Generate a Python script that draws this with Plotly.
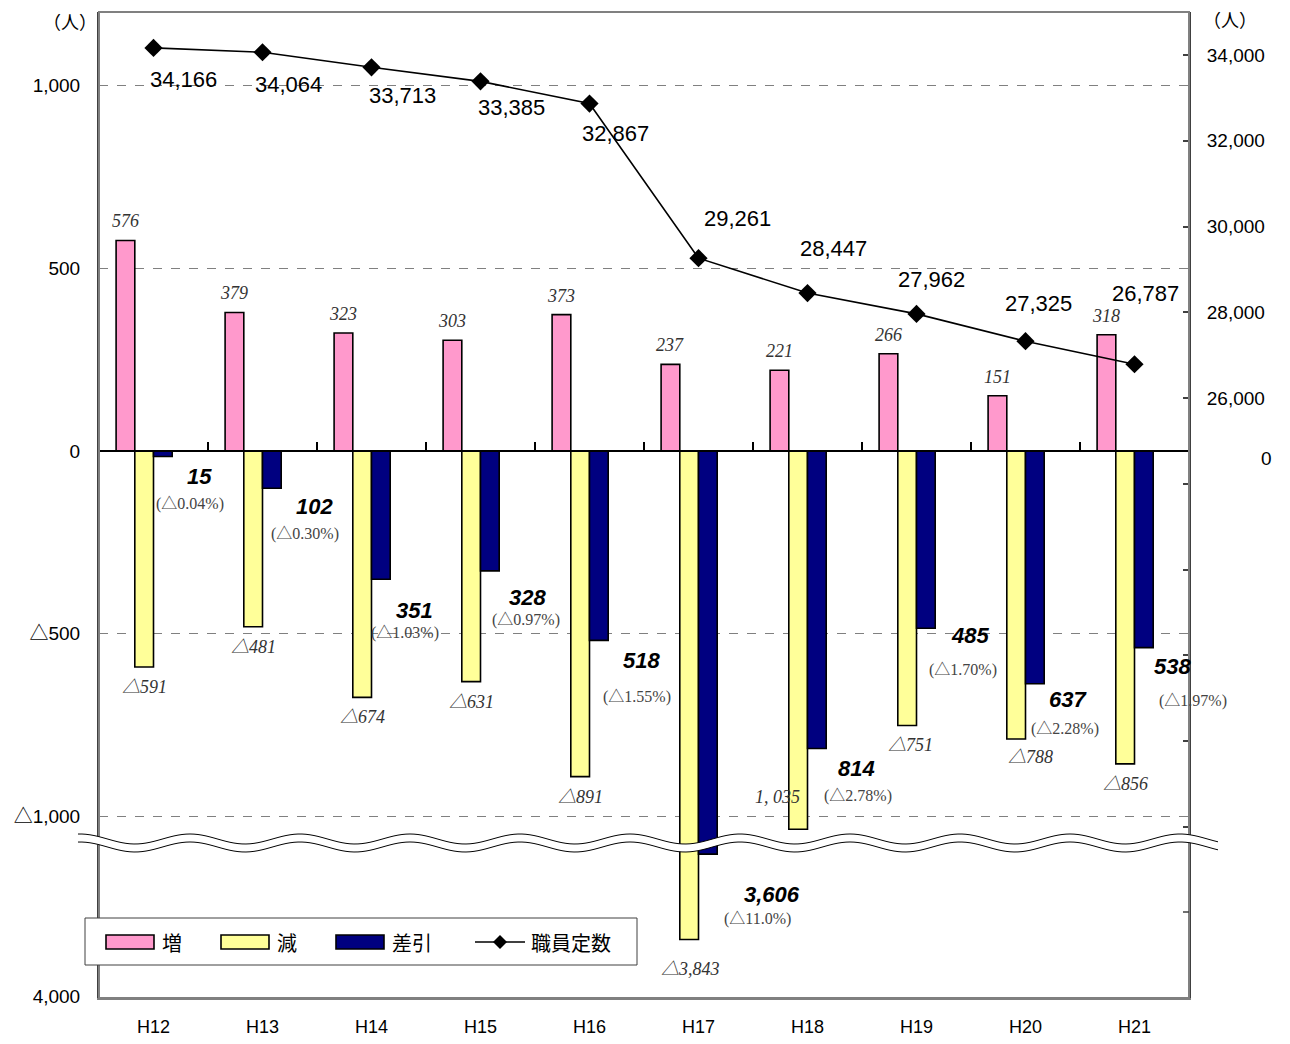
import math
import plotly.graph_objects as go

# ---- data ----
years = ['H12', 'H13', 'H14', 'H15', 'H16', 'H17', 'H18', 'H19', 'H20', 'H21']
increase = [576, 379, 323, 303, 373, 237, 221, 266, 151, 318]
decrease = [-591, -481, -674, -631, -891, -3843, -1035, -751, -788, -856]
net = [-15, -102, -351, -328, -518, -3606, -814, -485, -637, -538]
staff = [34166, 34064, 33713, 33385, 32867, 29261, 28447, 27962, 27325, 26787]
net_pct = [0.04, 0.30, 1.03, 0.97, 1.55, 11.0, 2.78, 1.70, 2.28, 1.97]

left_ticks = [-1000, -500, 0, 500, 1000]
left_ticktext = ['△1,000', '△500', '0', '500', '1,000']
right_ticks = [16000, 18000, 20000, 22000, 24000, 26000, 28000, 30000, 32000, 34000]
right_ticktext = ['', '', '', '', '', '26,000', '28,000', '30,000', '32,000', '34,000']

# full-width triangle, as in the original
TRI = '<span style="font-family:Noto Sans CJK JP">△</span>'


def tri(s):
    return s.replace('△', TRI)


# label texts
inc_text = [str(v) for v in increase]
dec_text = [tri('△{:,}'.format(-v)) for v in decrease]
dec_text[6] = '1, 035'
net_text = ['{:,}'.format(-v) for v in net]
pct_text = [tri('(△{:.2f}%)'.format(p) if p < 10 else '(△{:.1f}%)'.format(p)) for p in net_pct]
staff_text = ['{:,}'.format(v) for v in staff]

# label offsets in pixels (dx right, dy down) from the mark they belong to
dec_dx = [0, 0, 0, 0, 0, 1, -21, 3, 14, 0]
dec_dy = [18, 18, 18, 18, 18, 28, -32, 18, 16, 18]
net_dx = [37, 43, 34, 38, 43, 64, 40, 44, 33, 29]
net_dy = [20, 18, 31, 27, 20, 40, 20, 7, 16, 19]
pct_dx = [27, 33, 24, 36, 38, 50, 41, 37, 30, 49]
pct_dy = [46, 44, 52, 47, 55, 63, 45, 40, 43, 51]
staff_dx = [30, 26, 31, 31, 26, 39, 26, 15, 13, 11]
staff_dy = [32, 32, 28, 26, 30, -40, -45, -34, -38, -71]

# ---- geometry (page pixels) ----
W, H = 1290, 1044
PLOT_L, PLOT_R, PLOT_T, PLOT_B = 99, 1189, 12, 998
PW, PH = PLOT_R - PLOT_L, PLOT_B - PLOT_T
L, R, T, B = PLOT_L, W - PLOT_R, PLOT_T, H - PLOT_B


def px_x(px):
    return (px - PLOT_L) / PW


def px_y(py):
    return (PLOT_B - py) / PH


cat_px = PW / len(years)
bw = 18.7 / cat_px
upper_dom = [px_y(845), 1.0]
lower_dom = [0.0, px_y(841)]
s_up = 0.3655
upper_range = [-(845 - 451) / s_up, (451 - PLOT_T) / s_up]
s_lo = 0.36
lower_range = [-4000 - (PLOT_B - 996) / s_lo, -4000 + (996 - 841) / s_lo]
s_r = 0.042875
right_range = [34000 - (845 - 55) / s_r, 34000 + (55 - PLOT_T) / s_r]

PINK, YELLOW, NAVY = '#FF99CC', '#FFFF99', '#000080'
SANS = 'Liberation Sans, Arial, sans-serif'
SERIF = 'Liberation Serif, DejaVu Serif, serif'
JP = 'Noto Sans CJK JP, sans-serif'

fig = go.Figure()

series = [('増', increase, PINK, -2 * bw), ('減', decrease, YELLOW, -bw), ('差引', net, NAVY, 0)]
for xa, ya in [('x', 'y'), ('x2', 'y3')]:
    for name, vals, col, off in series:
        fig.add_trace(go.Bar(
            x=years, y=vals, name=name, xaxis=xa, yaxis=ya,
            width=bw, offset=off, showlegend=False,
            marker=dict(color=col, line=dict(color='black', width=1.6))
        ))

fig.add_trace(go.Scatter(
    x=years, y=staff, name='職員定数', xaxis='x', yaxis='y2', mode='lines+markers',
    line=dict(color='black', width=1.6),
    marker=dict(symbol='diamond', size=14, color='black'), showlegend=False
))

annotations = []


def label(x, y, text, dx, dy, font):
    low = y < upper_range[0]
    annotations.append(dict(
        x=x, y=y, xref='x2' if low else 'x', yref='y3' if low else 'y',
        text=text, showarrow=False, xshift=dx, yshift=-dy, font=font,
        xanchor='center', yanchor='middle'
    ))


def paper_text(txt, px, py, font, xanchor='center'):
    annotations.append(dict(x=px_x(px), y=px_y(py), xref='paper', yref='paper', text=txt,
                            xanchor=xanchor, yanchor='middle', showarrow=False, font=font))


f_inc = dict(family=SERIF, size=18, color='#333333', style='italic')
f_net = dict(family=SANS, size=22, color='black', style='italic', weight='bold')
f_pct = dict(family=SERIF, size=16, color='#444444')
f_staff = dict(family=SANS, size=22, color='black')

for i, yr in enumerate(years):
    label(yr, increase[i], inc_text[i], -1.5 * bw * cat_px, -19, f_inc)
    label(yr, decrease[i], dec_text[i], -0.5 * bw * cat_px + dec_dx[i], dec_dy[i], f_inc)
    label(yr, net[i], net_text[i], 0.5 * bw * cat_px + net_dx[i], net_dy[i], f_net)
    label(yr, net[i], pct_text[i], 0.5 * bw * cat_px + pct_dx[i], pct_dy[i], f_pct)
    annotations.append(dict(
        x=yr, y=staff[i], xref='x', yref='y2', text=staff_text[i], showarrow=False,
        xshift=staff_dx[i], yshift=-staff_dy[i], font=f_staff,
        xanchor='center', yanchor='middle'
    ))

# units and the right-hand zero
paper_text('（人）', 70, 21, dict(family=JP, size=18, color='black'))
paper_text('（人）', 1230, 19, dict(family=JP, size=18, color='black'))
paper_text('0', 1266, 458, dict(family=SANS, size=19, color='black'))

shapes = []
# plot frame
shapes.append(dict(type='rect', xref='paper', yref='paper', x0=0, x1=1, y0=0, y1=1,
                   line=dict(color='#808080', width=2), layer='above'))
# right axis tick in the lower part
shapes.append(dict(type='line', xref='paper', yref='paper', x0=px_x(1183), x1=1,
                   y0=px_y(912), y1=px_y(912), line=dict(color='#404040', width=1.5)))

# axis break (wavy band)
xs = list(range(78, 1222, 4))
up = [839 - 5 * math.cos(2 * math.pi * (x - 80) / 110) for x in xs]
lo = [u + 8 for u in up]


def path(pts):
    return 'M ' + ' L '.join('{:.5f},{:.5f}'.format(px_x(a), px_y(b)) for a, b in pts)


band = path(list(zip(xs, up)) + list(zip(xs[::-1], lo[::-1]))) + ' Z'
shapes.append(dict(type='path', xref='paper', yref='paper', path=band,
                   fillcolor='white', line=dict(width=0), layer='above'))
for line_pts in (up, lo):
    shapes.append(dict(type='path', xref='paper', yref='paper', path=path(list(zip(xs, line_pts))),
                       line=dict(color='black', width=1), layer='above'))

# legend drawn by hand (wide swatches like the original)
shapes.append(dict(type='rect', xref='paper', yref='paper', x0=px_x(85), x1=px_x(637),
                   y0=px_y(965), y1=px_y(918), fillcolor='white',
                   line=dict(color='#404040', width=1), layer='above'))
legend_items = [('増', PINK, 106, 160), ('減', YELLOW, 221, 275), ('差引', NAVY, 336, 390)]
for name, col, x0, tx in legend_items:
    shapes.append(dict(type='rect', xref='paper', yref='paper', x0=px_x(x0), x1=px_x(x0 + 48),
                       y0=px_y(949), y1=px_y(935), fillcolor=col,
                       line=dict(color='black', width=1.6), layer='above'))
    paper_text(name, tx, 942, dict(family=JP, size=20, color='black'), xanchor='left')
shapes.append(dict(type='line', xref='paper', yref='paper', x0=px_x(475), x1=px_x(525),
                   y0=px_y(942), y1=px_y(942), line=dict(color='black', width=1.6), layer='above'))
d = 7
shapes.append(dict(type='path', xref='paper', yref='paper',
                   path=path([(500, 942 - d), (500 + d, 942), (500, 942 + d), (500 - d, 942)]) + ' Z',
                   fillcolor='black', line=dict(width=0), layer='above'))
paper_text('職員定数', 529, 942, dict(family=JP, size=20, color='black'), xanchor='left')

axis_font = dict(family=SANS, size=19, color='black')

fig.update_layout(
    width=W, height=H,
    margin=dict(l=L, r=R, t=T, b=B, autoexpand=False),
    paper_bgcolor='white', plot_bgcolor='white',
    barmode='overlay', showlegend=False,
    annotations=annotations, shapes=shapes,
    xaxis=dict(domain=[0, 1], anchor='free', position=px_y(451), automargin=False,
               categoryorder='array', categoryarray=years, range=[-0.5, len(years) - 0.5],
               showticklabels=False, ticks='inside', tickson='boundaries', ticklen=8,
               tickcolor='black', tickwidth=1.5,
               showline=True, linecolor='black', linewidth=2, showgrid=False, zeroline=False),
    xaxis2=dict(domain=[0, 1], anchor='y3', matches='x', automargin=False,
                categoryorder='array', categoryarray=years,
                showticklabels=True, ticks='', tickfont=dict(family=SANS, size=18, color='black'),
                ticklabelstandoff=11,
                showline=True, linecolor='#808080', linewidth=2, showgrid=False),
    yaxis=dict(domain=upper_dom, anchor='x', range=upper_range, automargin=False,
               tickvals=left_ticks, ticktext=[tri(t) for t in left_ticktext], tickfont=axis_font,
               ticks='', ticklabelstandoff=13,
               showline=True, linecolor='#404040', linewidth=2,
               showgrid=True, gridcolor='#808080', griddash='dash', gridwidth=1, zeroline=False),
    yaxis2=dict(overlaying='y', anchor='x', side='right', range=right_range, automargin=False,
                tickvals=right_ticks, ticktext=right_ticktext, tickfont=axis_font,
                ticks='inside', ticklen=6, tickcolor='#404040', tickwidth=1.5, ticklabelstandoff=12,
                showline=True, linecolor='#404040', linewidth=2, showgrid=False, zeroline=False),
    yaxis3=dict(domain=lower_dom, anchor='x2', range=lower_range, automargin=False,
                tickvals=[-4000], ticktext=['4,000'], tickfont=axis_font,
                ticks='', ticklabelstandoff=13, mirror=True,
                showline=True, linecolor='#404040', linewidth=2, showgrid=False, zeroline=False),
)

# page without the default body margin so the figure starts at the window corner
page_css = ("document.body.style.margin='0';"
            "document.body.style.overflow='hidden';"
            "document.documentElement.style.overflow='hidden';")
fig.write_html('out.html', post_script=page_css, config={'displayModeBar': False})
